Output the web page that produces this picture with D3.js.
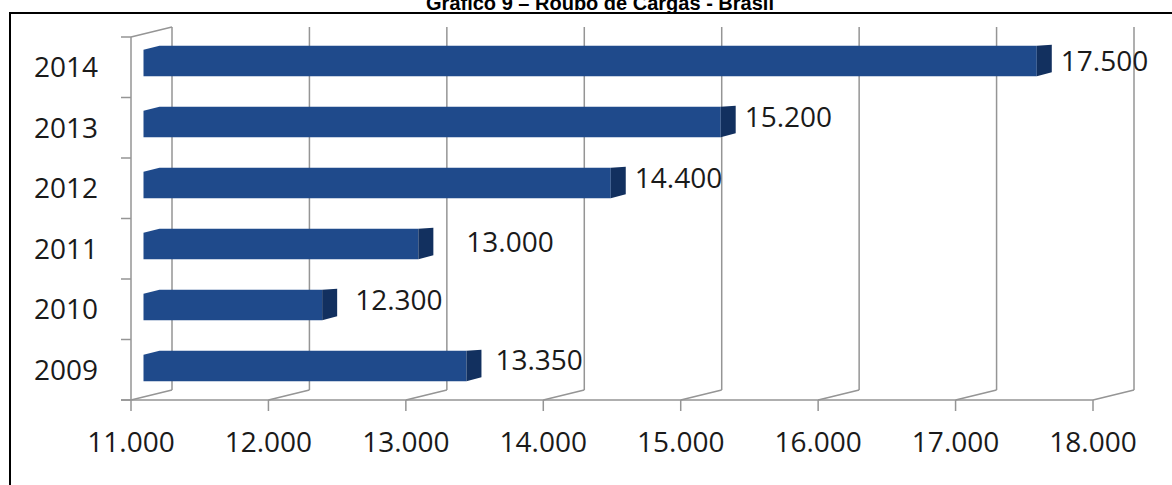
<!DOCTYPE html>
<html>
<head>
<meta charset="utf-8">
<script src="https://cdn.jsdelivr.net/npm/d3@7"></script>
<style>
  html, body { margin: 0; padding: 0; background: #fff; }
  svg { display: block; }
</style>
</head>
<body>
<svg id="chart" width="1172" height="485"></svg>
<script>
// ---- data ----
const title = "Gráfico 9 – Roubo de Cargas - Brasil";
const years = ["2009", "2010", "2011", "2012", "2013", "2014"];
const values = [13350, 12300, 13000, 14400, 15200, 17500];
const valueLabels = ["13.350", "12.300", "13.000", "14.400", "15.200", "17.500"];
const xTicks = [11000, 12000, 13000, 14000, 15000, 16000, 17000, 18000];
const xTickLabels = ["11.000", "12.000", "13.000", "14.000", "15.000", "16.000", "17.000", "18.000"];
// label nudges (as placed in the original)
const labelDx = [14, 18, 33, 9, 9, 9];
const labelDy = [-6, -5, -2, -5, -5, 0];

// ---- layout ----
const svg = d3.select("#chart");
const FONT = "'Open Sans', 'DejaVu Sans', sans-serif";
const DX = 41, DY = -10;          // depth offset of back wall
const BX = 12.5;                  // bar front plane offset
const SIDE = 15, SIDE_DY = -4;    // bar side face
const floorY = 400, wallTop = 37;

const x = d3.scaleLinear().domain([11000, 18000]).range([131, 1093]);
const order = years.slice().reverse();
const yAxis = d3.scaleBand().domain(order).range([wallTop, floorY]);
const yBar = d3.scaleBand().domain(order).range([30.5, 396.5]).paddingInner(0.5).paddingOuter(0.25);

// frame
svg.append("rect").attr("x", 10).attr("y", 13).attr("width", 1172).attr("height", 480)
  .attr("fill", "none").attr("stroke", "#000").attr("stroke-width", 2);

// title (partly cut off at the top, as in the original)
svg.append("text").attr("x", 600).attr("y", 10).attr("text-anchor", "middle")
  .attr("font-family", "Arial, 'Liberation Sans', sans-serif").attr("font-weight", "bold")
  .attr("font-size", 20).attr("fill", "#000").text(title);

const grid = svg.append("g").attr("stroke", "#959595").attr("stroke-width", 1.5).attr("fill", "none");

// back wall gridlines + floor diagonals + ticks
xTicks.forEach(t => {
  const px = x(t);
  grid.append("line").attr("x1", px + DX).attr("x2", px + DX).attr("y1", floorY + DY).attr("y2", wallTop + DY);
  grid.append("line").attr("x1", px).attr("x2", px + DX).attr("y1", floorY).attr("y2", floorY + DY);
  grid.append("line").attr("x1", px).attr("x2", px).attr("y1", floorY).attr("y2", floorY + 11);
});
// floor front edge
grid.append("line").attr("x1", 121).attr("x2", x(18000)).attr("y1", floorY).attr("y2", floorY);
// left wall
grid.append("line").attr("x1", x(11000)).attr("x2", x(11000)).attr("y1", wallTop).attr("y2", floorY);
grid.append("line").attr("x1", x(11000)).attr("x2", x(11000) + DX).attr("y1", wallTop).attr("y2", wallTop + DY);
// category ticks
const bounds = order.map(d => yAxis(d)).concat([floorY]);
bounds.forEach(b => {
  grid.append("line").attr("x1", 121).attr("x2", x(11000)).attr("y1", b).attr("y2", b);
});

// bars
const data = years.map((y, i) => ({ year: y, value: values[i], label: valueLabels[i], dx: labelDx[i], dy: labelDy[i] }));
const bars = svg.append("g");
data.forEach(d => {
  const x0 = x(11000) + BX, x1 = x(d.value) + BX;
  const top = yBar(d.year), bot = top + yBar.bandwidth();
  bars.append("polygon")
    .attr("points", [[x0, top + 4], [x0 + 16, top], [x1, top], [x1, bot], [x0, bot]].map(p => p.join(",")).join(" "))
    .attr("fill", "#1f4a8b");
  bars.append("polygon")
    .attr("points", [[x1, top], [x1 + SIDE, top - 1], [x1 + SIDE, bot + SIDE_DY], [x1, bot]].map(p => p.join(",")).join(" "))
    .attr("fill", "#12305f");
  bars.append("text")
    .attr("x", x1 + SIDE + d.dx)
    .attr("y", top + yBar.bandwidth() / 2 + 10 + d.dy)
    .attr("font-family", FONT).attr("font-size", 28).attr("fill", "#1a1a1a")
    .text(d.label);
});

// category labels
svg.append("g").selectAll("text").data(order).join("text")
  .attr("x", 66).attr("y", d => yAxis(d) + yAxis.bandwidth() / 2 + 10)
  .attr("text-anchor", "middle").attr("font-family", FONT).attr("font-size", 28).attr("fill", "#1a1a1a")
  .text(d => d);

// x tick labels
svg.append("g").selectAll("text").data(xTicks).join("text")
  .attr("x", d => x(d)).attr("y", 452)
  .attr("text-anchor", "middle").attr("font-family", FONT).attr("font-size", 28).attr("fill", "#1a1a1a")
  .text((d, i) => xTickLabels[i]);
</script>
</body>
</html>
